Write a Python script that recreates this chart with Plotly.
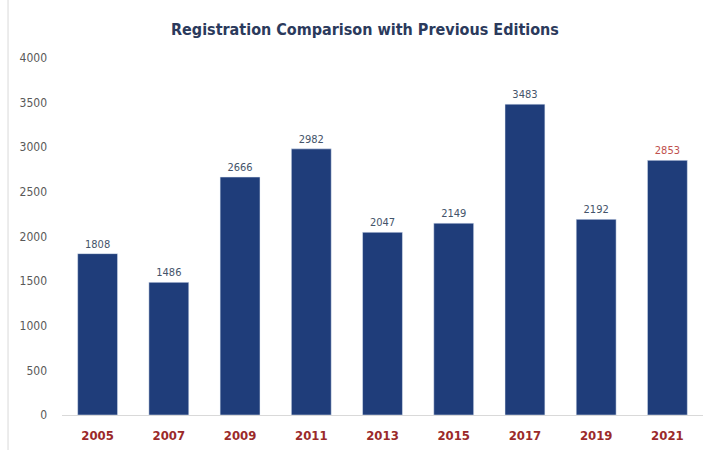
import plotly.graph_objects as go

years = ["2005", "2007", "2009", "2011", "2013", "2015", "2017", "2019", "2021"]
registrations = [1808, 1486, 2666, 2982, 2047, 2149, 3483, 2192, 2853]
label_colors = ["#44546A"] * 8 + ["#C0504D"]
y_ticks = [0, 500, 1000, 1500, 2000, 2500, 3000, 3500, 4000]

FONT = "Liberation Sans Narrow, DejaVu Sans Condensed, Roboto, sans-serif"

fig = go.Figure(go.Bar(
    x=years, y=registrations,
    marker=dict(color="#1F3D7A"),
    text=[str(v) for v in registrations],
    textposition="outside",
    textfont=dict(size=11, color=label_colors, family=FONT),
    cliponaxis=False,
))

fig.update_layout(
    width=710, height=450,
    margin=dict(l=62, r=7, t=58, b=35),
    paper_bgcolor="white", plot_bgcolor="white",
    bargap=0.44,
    showlegend=False,
    title=dict(text="<b>Registration Comparison with Previous Editions</b>",
               x=0.514, xref="container", xanchor="center", y=0.935, yanchor="middle",
               font=dict(size=16, color="#2B3A5C", family=FONT)),
    xaxis=dict(type="category", showgrid=False, showline=True, linecolor="#D9D9D9",
               linewidth=1, ticks="",
               tickfont=dict(size=13, color="#9B2A2A", family=FONT, weight="bold"),
               ticklabelstandoff=8),
    yaxis=dict(range=[0, 4000], tickvals=y_ticks, showgrid=False, zeroline=False,
               showline=False, ticks="",
               tickfont=dict(size=12, color="#595959", family=FONT),
               ticklabelstandoff=14),
    shapes=[dict(type="line", xref="paper", yref="paper", x0=-0.0842, x1=-0.0842,
                 y0=-0.1, y1=1.17, line=dict(color="#D9D9D9", width=1))],
)

fig.write_html("out.html", config={"displayModeBar": False},
               post_script="document.body.style.margin='0';document.body.style.overflow='hidden';")
